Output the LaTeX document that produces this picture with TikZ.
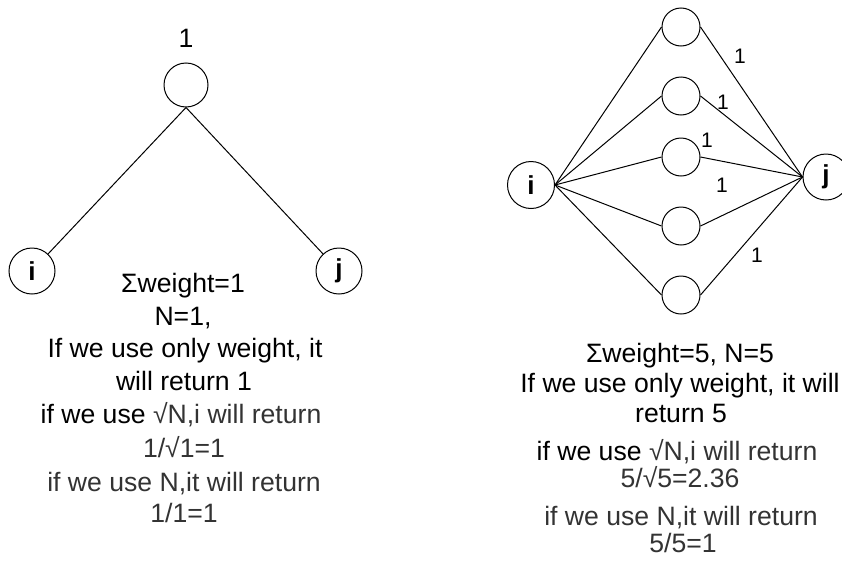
\documentclass[tikz,border=0pt]{standalone}
\usepackage{fontspec}
\setmainfont{Liberation Sans}
\definecolor{txtgray}{HTML}{333333}
\begin{document}
\begin{tikzpicture}[x=1pt,y=-1pt,
  vert/.style={circle,draw,line width=1pt,inner sep=0pt,font=\fontsize{26}{30}\selectfont\bfseries},
  edge/.style={line width=1pt},
  big/.style={inner sep=0pt,anchor=base,font=\fontsize{26.6}{31}\selectfont},
  small/.style={inner sep=0pt,font=\fontsize{21}{25}\selectfont}]
\useasboundingbox (0,0) rectangle (842,565);
% left diagram
\node[vert,minimum size=44pt] (top) at (186,85) {};
\node[big] (topl) at (186,47) {1};
\node[vert,minimum size=46pt] (li) at (32,271) {i};
\node[vert,minimum size=46pt] (lj) at (339,271) {j};
\draw[edge] (top.south) -- (li);
\draw[edge] (top.south) -- (lj);
\node[big] (lt1) at (183,292) {Σweight=1};
\node[big] (lt2) at (183,325) {N=1,};
\node[big] (lt3) at (185,357) {If we use only weight, it};
\node[big] (lt4) at (184,390) {will return 1};
\node[big] (lt5) at (181,423) {if we use \textcolor{txtgray}{√N,i will return}};
\node[big,text=txtgray] (lt6) at (184,457) {1/√1=1};
\node[big,text=txtgray] (lt7) at (184,491) {if we use N,it will return};
\node[big,text=txtgray] (lt8) at (184,522) {1/1=1};
% right diagram
\node[vert,minimum size=47pt] (ri) at (531,185) {i};
\node[vert,minimum size=46pt] (rj) at (826,177) {j};
\foreach \n/\y in {1/27,2/96,3/157,4/226,5/295}{
  \node[vert,minimum size=38pt] (m\n) at (681,\y) {};
  \draw[edge] (ri.east) -- (m\n.west);
  \draw[edge] (m\n.east) -- (rj.west);
}
\node[small] (w1) at (740,56) {1};
\node[small] (w2) at (723,102) {1};
\node[small] (w3) at (707,140) {1};
\node[small] (w4) at (722,185) {1};
\node[small] (w5) at (757,255) {1};
\node[big] (rt1) at (680,362) {Σweight=5, N=5};
\node[big] (rt2) at (680,392) {If we use only weight, it will};
\node[big] (rt3) at (681,422) {return 5};
\node[big] (rt4) at (677,460) {if we use \textcolor{txtgray}{√N,i will return}};
\node[big,text=txtgray] (rt5) at (680,487) {5/√5=2.36};
\node[big,text=txtgray] (rt6) at (681,525) {if we use N,it will return};
\node[big,text=txtgray] (rt7) at (683,552) {5/5=1};
\end{tikzpicture}
\end{document}
